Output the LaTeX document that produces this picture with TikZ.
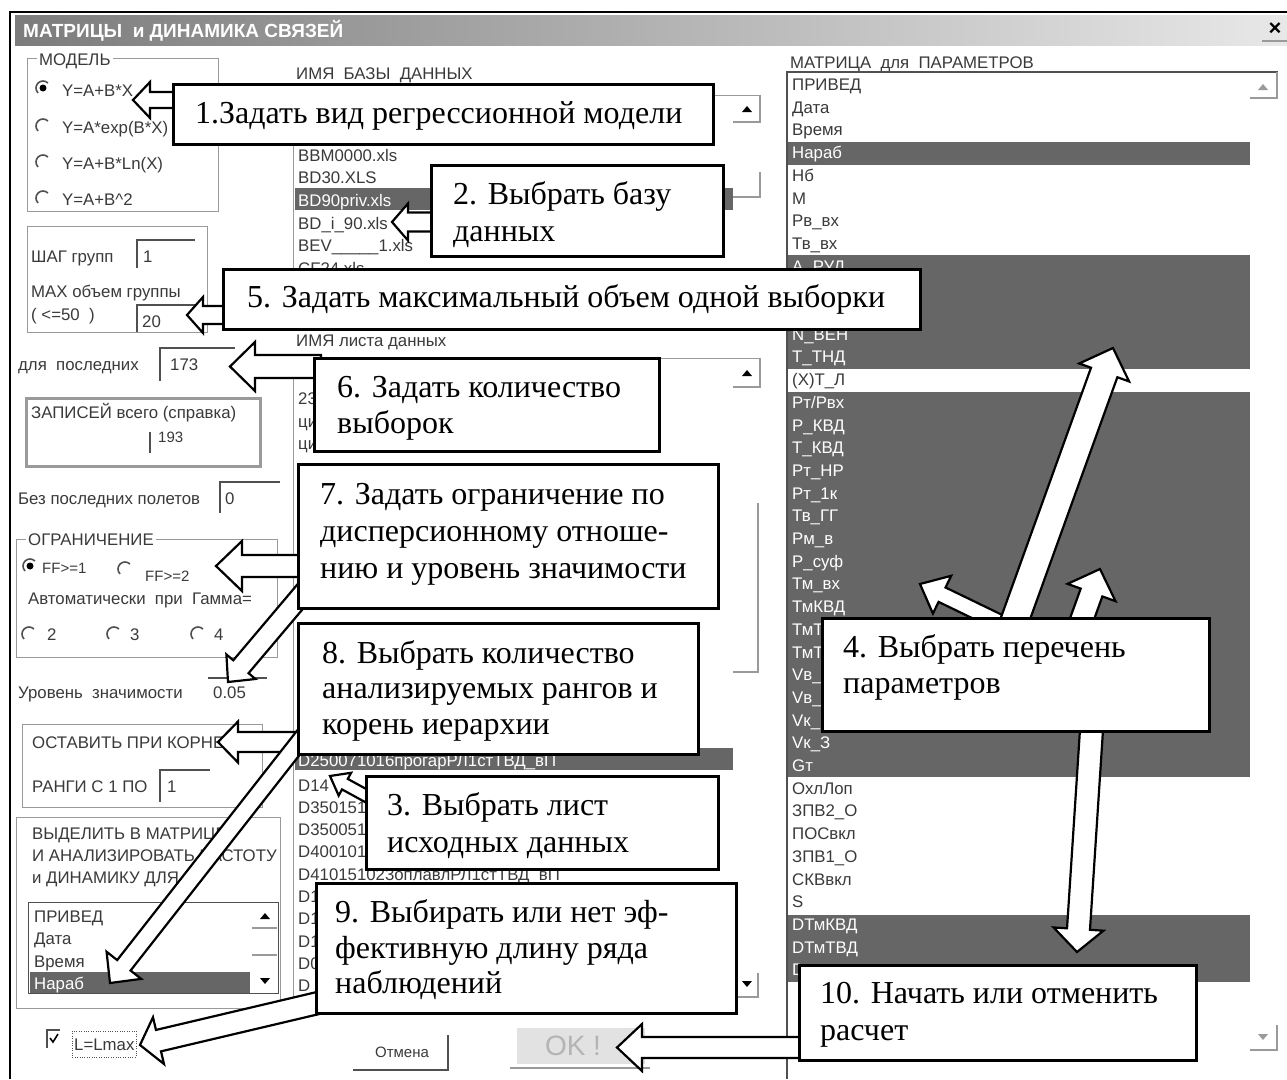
\documentclass[tikz,border=0pt]{standalone}
\usepackage{fontspec}
\setmainfont{Liberation Serif}
\newfontfamily\uifont{Liberation Sans}
\usetikzlibrary{calc}

\definecolor{hlgray}{HTML}{666666}
\definecolor{uitext}{HTML}{3A3A3A}
\definecolor{uiline}{HTML}{9A9A9A}
\definecolor{uidark}{HTML}{505050}
\definecolor{titledark}{HTML}{7C7C7C}
\definecolor{titlelight}{HTML}{E8E8E8}
\definecolor{okfill}{HTML}{E2E2E2}
\definecolor{oktext}{HTML}{B4B4B4}

\tikzset{
	ui/.style={anchor=base west, inner sep=0pt, text=uitext, font=\uifont\fontsize{16.8}{19}\selectfont},
	uihl/.style={ui, text=white},
	uismall/.style={ui, font=\uifont\fontsize{15}{17}\selectfont},
	grouplabel/.style={ui, fill=white, inner xsep=2pt},
	groupbox/.style={draw=uiline, line width=0.9pt},
	sunken/.style={draw=uidark, line width=1.3pt},
	btnline/.style={draw=uiline, line width=1.3pt},
	callbox/.style={draw, line width=2.8pt, fill=white, anchor=north west, inner sep=0pt},
	calltext/.style={anchor=base west, inner sep=0pt, font=\fontsize{32}{38}\selectfont},
	callarrow/.style={draw, line width=2.2pt, fill=white, line join=miter},
	radiooff/.pic={\draw[uidark, line width=1.6pt] (135:7) arc[start angle=135, end angle=315, radius=7];},
	radioon/.pic={\draw[uidark, line width=1.6pt] (135:7) arc[start angle=135, end angle=315, radius=7];
		\fill[black] (0,0) circle (3.5);},
	scrollup/.pic={\fill (-5,3) -- (5,3) -- (0,-3) -- cycle;},
	scrolldown/.pic={\fill (-5,-3) -- (5,-3) -- (0,3) -- cycle;},
}

% block arrow: tail, tip, shaft half width, head half width, head length
\newcommand{\blockarrow}[5]{%
	\coordinate (neck) at ($(#2)!#5!(#1)$);
	\draw[callarrow] ($(#1)!#3!90:(#2)$) -- ($(neck)!#3!90:(#2)$) -- ($(neck)!#4!90:(#2)$) -- (#2)
		-- ($(neck)!#4!-90:(#2)$) -- ($(neck)!#3!-90:(#2)$) -- ($(#1)!#3!-90:(#2)$) -- cycle;}

\begin{document}
\begin{tikzpicture}[x=1pt, y=-1pt]
	\useasboundingbox (0,0) rectangle (1287,1079);
	\fill[white] (0,0) rectangle (1287,1079);

	% window
	\draw[line width=2pt] (10,1079) -- (10,12) -- (1287,12);
	\shade[left color=titledark, right color=titlelight] (15,15) rectangle (1287,45);
	\node[anchor=base west, inner sep=0pt, text=white, font=\uifont\bfseries\fontsize{19}{20}\selectfont] (title) at (23,37) {МАТРИЦЫ\ \ и ДИНАМИКА СВЯЗЕЙ};
	\node[inner sep=0pt, font=\uifont\bfseries\fontsize{22}{22}\selectfont] (close) at (1275,29) {×};
	\draw[btnline] (1262,41) -- (1287,41);

	% model
	\draw[groupbox] (27,58) rectangle (218,211);
	\node[grouplabel] (model) at (37,65) {МОДЕЛЬ};
	\pic at (43,88) {radioon};
	\pic at (43,126) {radiooff};
	\pic at (43,162) {radiooff};
	\pic at (43,198) {radiooff};
	\node[ui] (mlin) at (62,96) {Y=A+B*X};
	\node[ui] (mexp) at (62,133) {Y=A*exp(B*X)};
	\node[ui] (mlog) at (62,169) {Y=A+B*Ln(X)};
	\node[ui] (msq) at (62,205) {Y=A+B\^{}2};

	% groups
	\draw[groupbox] (27,226) rectangle (207,332);
	\node[ui] (stepl) at (31,262) {ШАГ групп};
	\draw[sunken] (195,240) -- (137,240) -- (137,268);
	\node[ui] (stepv) at (143,262) {1};
	\node[ui] (maxl) at (31,297) {MAX объем группы};
	\node[ui] (maxr) at (31,320) {( <=50\ \ )};
	\draw[sunken] (200,305) -- (137,305) -- (137,332);
	\node[ui] (maxv) at (142,327) {20};

	\node[ui] (lastl) at (18,370) {для\ \ последних};
	\draw[sunken] (235,348) -- (160,348) -- (160,381);
	\node[ui] (lastv) at (170,370) {173};

	\draw[draw=uiline, line width=3pt] (26,398) rectangle (260,466);
	\node[ui] (recl) at (31,418) {ЗАПИСЕЙ всего (справка)};
	\draw[uidark, line width=1.3pt] (150,432) -- (150,453);
	\node[uismall] (recv) at (158,442) {193};

	\node[ui] (skipl) at (18,504) {Без последних полетов};
	\draw[sunken] (280,482) -- (220,482) -- (220,513);
	\node[ui] (skipv) at (225,504) {0};

	% limit
	\draw[groupbox] (16,539) rectangle (277,657);
	\node[grouplabel] (limit) at (26,545) {ОГРАНИЧЕНИЕ};
	\pic at (30,566) {radioon};
	\node[uismall] (ff1) at (42,573) {FF>=1};
	\pic at (125,569) {radiooff};
	\node[uismall] (ff2) at (145,581) {FF>=2};
	\node[ui] (auto) at (28,604) {Автоматически\ \ при\ \ Гамма=};
	\pic at (29,634) {radiooff};
	\node[ui] (g2) at (47,640) {2};
	\pic at (114,634) {radiooff};
	\node[ui] (g3) at (130,640) {3};
	\pic at (198,634) {radiooff};
	\node[ui] (g4) at (214,640) {4};
	\node[ui] (levl) at (18,698) {Уровень\ \ значимости};
	\draw[sunken] (208,678) -- (267,678);
	\node[ui] (levv) at (213,698) {0.05};

	% root and ranks
	\draw[groupbox] (22,724) rectangle (262,807);
	\node[ui] (rootl) at (32,748) {ОСТАВИТЬ ПРИ КОРНЕ};
	\node[ui] (rankl) at (32,792) {РАНГИ С 1 ПО};
	\draw[sunken] (210,770) -- (160,770) -- (160,802);
	\node[ui] (rankv) at (167,792) {1};

	\draw[groupbox] (16,817) rectangle (280,1008);
	\node[ui] (sel1) at (32,839) {ВЫДЕЛИТЬ В МАТРИЦЕ};
	\node[ui] (sel2) at (32,861) {И АНАЛИЗИРОВАТЬ ЧАСТОТУ};
	\node[ui] (sel3) at (32,883) {и ДИНАМИКУ ДЛЯ};
	\draw[uidark, line width=1pt] (28,902) rectangle (278,993);
	\fill[hlgray] (30,972) rectangle (250,993);
	\node[ui] (sel4) at (34,922) {ПРИВЕД};
	\node[ui] (sel5) at (34,944) {Дата};
	\node[ui] (sel6) at (34,967) {Время};
	\node[uihl] (sel7) at (34,989) {Нараб};
	\draw[btnline] (252,928) -- (277,928);
	\draw[btnline] (252,955) -- (277,955);
	\pic at (265,916) {scrollup};
	\pic at (265,981) {scrolldown};

	\draw[uidark, line width=1.3pt] (60,1030) -- (47,1030) -- (47,1048);
	\draw[line width=1.6pt] (50,1038) -- (53,1042) -- (58,1034);
	\draw[dotted, uidark] (72,1031) rectangle (136,1057);
	\node[ui] (lmax) at (74,1050) {L=Lmax};

	% buttons
	\node[uismall, anchor=center] (cancel) at (402,1052) {Отмена};
	\draw[uidark, line width=1.3pt] (353,1070) -- (448,1070) -- (448,1035);
	\fill[okfill] (517,1028) rectangle (645,1064);
	\node[inner sep=0pt, text=oktext, font=\uifont\fontsize{28}{28}\selectfont] (ok) at (573,1046) {OK !};
	\draw[btnline] (510,1068) -- (650,1068);

	% data base list
	\node[ui] (dbhead) at (296,79) {ИМЯ\ \ БАЗЫ\ \ ДАННЫХ};
	\draw[uiline, line width=1pt] (293,268) -- (293,95) -- (760,95);
	\draw[btnline] (733,122) -- (760,122) -- (760,95);
	\pic at (747,109) {scrollup};
	\draw[btnline] (733,197) -- (760,197) -- (760,172);
	\fill[hlgray] (295,188) rectangle (733,210);
	\node[ui] (db1) at (298,161) {BBM0000.xls};
	\node[ui] (db2) at (298,183) {BD30.XLS};
	\node[uihl] (db3) at (298,206) {BD90priv.xls};
	\node[ui] (db4) at (298,229) {BD\_i\_90.xls};
	\node[ui] (db5) at (298,251) {BEV\_\_\_\_\_1.xls};
	\node[ui] (db6) at (298,274) {CF24.xls};

	% sheet list
	\node[ui] (sheethead) at (296,346) {ИМЯ листа данных};
	\draw[uiline, line width=1pt] (293,998) -- (293,358) -- (760,358);
	\draw[btnline] (733,387) -- (760,387) -- (760,358);
	\pic at (747,373) {scrollup};
	\draw[btnline] (733,672) -- (758,672) -- (758,503);
	\draw[btnline] (733,997) -- (758,997) -- (758,973);
	\pic at (747,984) {scrolldown};
	\node[ui] (sh1) at (298,404) {23};
	\node[ui] (sh2) at (298,427) {ци};
	\node[ui] (sh3) at (298,449) {ци};
	\fill[hlgray] (295,748) rectangle (733,770);
	\node[uihl] (sh4) at (298,766) {D250071016прогарРЛ1стТВД\_вП};
	\foreach \k/\t in {0/D14, 1/D350151, 2/D350051, 3/D400101, 4/D410151023оплавлРЛ1стТВД\_вП, 5/D1, 6/D1, 7/D1, 8/D0, 9/D}
		\node[ui] (sh\k) at (298,791+22.3*\k) {\t};

	% parameter list
	\node[ui] (mathead) at (790,68) {МАТРИЦА\ \ для\ \ ПАРАМЕТРОВ};
	\draw[uidark, line width=1.3pt] (787,1079) -- (787,72) -- (1278,72);
	\draw[btnline] (1250,98) -- (1277,98) -- (1277,72);
	\pic[color=uiline] at (1263,87) {scrollup};
	\draw[btnline] (1250,1050) -- (1277,1050) -- (1277,1025);
	\pic[color=uiline] at (1263,1037) {scrolldown};
	\fill[hlgray] (788,141.7) rectangle (1250,164.5);
	\fill[hlgray] (788,255.3) rectangle (1250,368.8);
	\fill[hlgray] (788,391.5) rectangle (1250,777.4);
	\fill[hlgray] (788,914.6) rectangle (1250,981.7);
	\foreach \k/\t in {0/ПРИВЕД, 1/Дата, 2/Время, 4/Нб, 5/М, 6/Рв\_вх, 7/Тв\_вх, 13/(Х)Т\_Л,
		31/ОхлЛоп, 32/ЗПВ2\_О, 33/ПОСвкл, 34/ЗПВ1\_О, 35/СКВвкл, 36/S}
		\node[ui] (par\k) at (792,90.5+22.7*\k) {\t};
	\foreach \k/\t in {3/Нараб, 8/А\_РУД, 11/N\_ВЕН, 12/Т\_ТНД, 14/{Рт/Рвх}, 15/Р\_КВД, 16/Т\_КВД,
		17/Рт\_НР, 18/Рт\_1к, 19/Тв\_ГГ, 20/Рм\_в, 21/Р\_суф, 22/Тм\_вх, 23/ТмКВД, 24/ТмТ, 25/ТмТ,
		26/Vв\_, 27/Vв\_, 28/Vк\_, 29/Vк\_З, 30/Gт, 37/DТмКВД, 38/DТмТВД, 39/D}
		\node[uihl] (par\k) at (792,90.5+22.7*\k) {\t};

	% arrows
	\coordinate (a1t) at (180,100);   \coordinate (a1p) at (133,100);
	\coordinate (a2t) at (438,222);   \coordinate (a2p) at (392,222);
	\coordinate (a5t) at (230,315);   \coordinate (a5p) at (187,315);
	\coordinate (a6t) at (321,366.5); \coordinate (a6p) at (230,366.5);
	\coordinate (a7t) at (305,566);   \coordinate (a7p) at (216,566);
	\coordinate (b7t) at (310,585);   \coordinate (b7p) at (228,682);
	\coordinate (a8t) at (305,742);   \coordinate (a8p) at (218,742);
	\coordinate (b8t) at (306,733);   \coordinate (b8p) at (110,983);
	\coordinate (a3t) at (372,799);   \coordinate (a3p) at (330,776);
	\coordinate (a9t) at (335,999);   \coordinate (a9p) at (140,1045);
	\coordinate (a4t) at (1092,722);  \coordinate (a4p) at (1077,952);
	\coordinate (b4t) at (1078,630);  \coordinate (b4p) at (1100,569);
	\coordinate (c4t) at (1015,630);  \coordinate (c4p) at (920,584);
	\coordinate (d4t) at (1012,628);  \coordinate (d4p) at (1113,348);
	\coordinate (a10t) at (806,1047.5); \coordinate (a10p) at (617,1047.5);
	\blockarrow{a1t}{a1p}{8pt}{18pt}{17pt}
	\blockarrow{a2t}{a2p}{9.5pt}{18.5pt}{16pt}
	\blockarrow{a5t}{a5p}{9pt}{18pt}{16pt}
	\blockarrow{a6t}{a6p}{11.5pt}{24.5pt}{25pt}
	\blockarrow{a7t}{a7p}{11pt}{25pt}{26pt}
	\blockarrow{b7t}{b7p}{10pt}{19pt}{20pt}
	\blockarrow{a8t}{a8p}{10pt}{20.5pt}{20pt}
	\blockarrow{b8t}{b8p}{8.5pt}{22pt}{22.5pt}
	\blockarrow{a3t}{a3p}{6pt}{13pt}{17pt}
	\blockarrow{a9t}{a9p}{11pt}{24pt}{19pt}
	\blockarrow{a4t}{a4p}{11.5pt}{25pt}{23pt}
	\blockarrow{b4t}{b4p}{11.5pt}{25.5pt}{25pt}
	\blockarrow{c4t}{c4p}{8pt}{21pt}{24.5pt}
	\blockarrow{d4t}{d4p}{14pt}{26.5pt}{26pt}
	\blockarrow{a10t}{a10p}{10.5pt}{23.5pt}{25pt}

	% callouts
	\node[callbox, minimum width=540, minimum height=60] (c1) at (172,83) {};
	\node[calltext] (t1) at (195,123) {1.Задать вид регрессионной модели};
	\node[callbox, minimum width=292, minimum height=91] (c2) at (430,164) {};
	\node[calltext] (t2a) at (453,204) {2. Выбрать базу};
	\node[calltext] (t2b) at (453,241) {данных};
	\node[callbox, minimum width=697, minimum height=60] (c5) at (222,268) {};
	\node[calltext] (t5) at (247,307) {5. Задать максимальный объем одной выборки};
	\node[callbox, minimum width=345, minimum height=93] (c6) at (313,357) {};
	\node[calltext] (t6a) at (337,397) {6. Задать количество};
	\node[calltext] (t6b) at (337,433) {выборок};
	\node[callbox, minimum width=420, minimum height=144] (c7) at (297,463) {};
	\node[calltext] (t7a) at (320,504) {7. Задать ограничение по};
	\node[calltext] (t7b) at (320,541) {дисперсионному отноше-};
	\node[calltext] (t7c) at (320,578) {нию и уровень значимости};
	\node[callbox, minimum width=400, minimum height=131] (c8) at (297,622) {};
	\node[calltext] (t8a) at (322,663) {8. Выбрать количество};
	\node[calltext] (t8b) at (322,698) {анализируемых рангов и};
	\node[calltext] (t8c) at (322,734) {корень иерархии};
	\node[callbox, minimum width=352, minimum height=93] (c3) at (365,775) {};
	\node[calltext] (t3a) at (387,815) {3. Выбрать лист};
	\node[calltext] (t3b) at (387,852) {исходных данных};
	\node[callbox, minimum width=420, minimum height=130] (c9) at (315,882) {};
	\node[calltext] (t9a) at (335,922) {9. Выбирать или нет эф-};
	\node[calltext] (t9b) at (335,958) {фективную длину ряда};
	\node[calltext] (t9c) at (335,993) {наблюдений};
	\node[callbox, minimum width=387, minimum height=113] (c4) at (821,617) {};
	\node[calltext] (t4a) at (843,657) {4. Выбрать перечень};
	\node[calltext] (t4b) at (843,693) {параметров};
	\node[callbox, minimum width=397, minimum height=95] (c10) at (798,964) {};
	\node[calltext] (t10a) at (820,1003) {10. Начать или отменить};
	\node[calltext] (t10b) at (820,1040) {расчет};
\end{tikzpicture}
\end{document}
